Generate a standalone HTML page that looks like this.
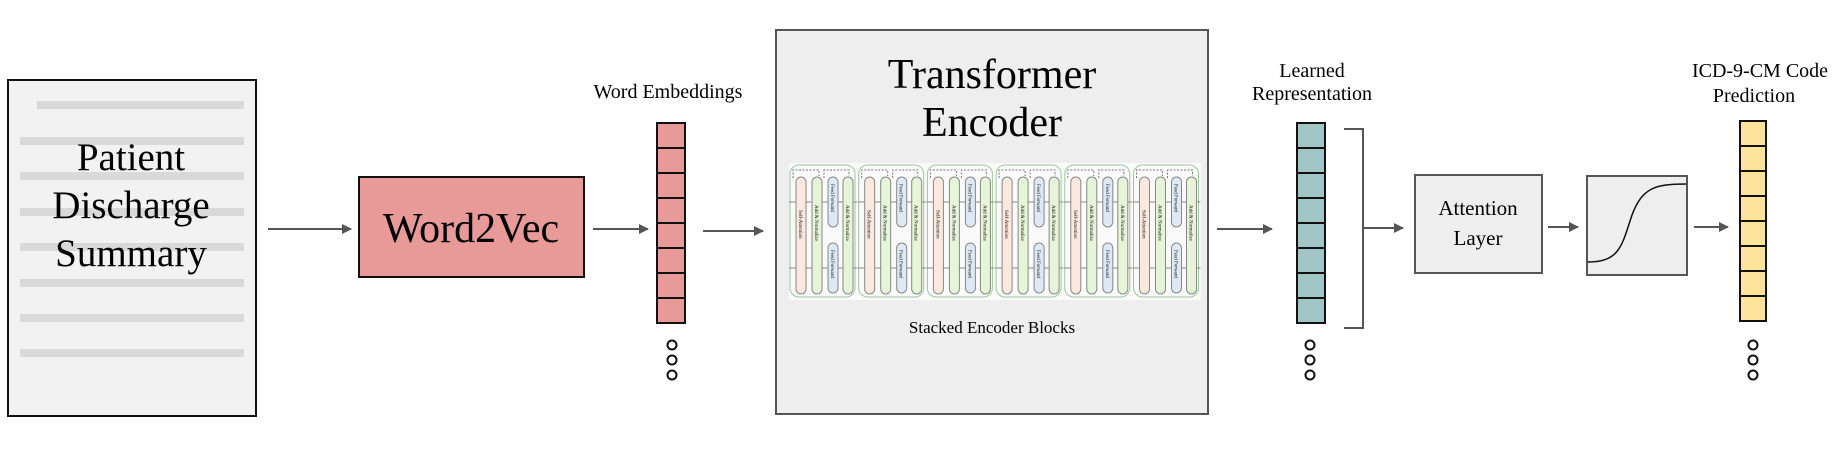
<!DOCTYPE html>
<html><head><meta charset="utf-8"><style>
html,body{margin:0;padding:0;background:#fff;}
svg{display:block;}
text{font-family:"Liberation Serif",serif;fill:#000;}
</style></head><body>
<svg width="1838" height="450" viewBox="0 0 1838 450" xmlns="http://www.w3.org/2000/svg">
<defs>
<marker id="ah" markerWidth="10" markerHeight="10" refX="9" refY="5" orient="auto" markerUnits="userSpaceOnUse">
<path d="M0,0 L10,5 L0,10 z" fill="#555"/></marker>
</defs>
<!-- document -->
<rect x="8" y="80" width="248" height="336" fill="#f2f2f2" stroke="#111" stroke-width="2"/>
<g fill="#d9d9d9">
<rect x="37" y="101" width="207" height="8"/>
<rect x="20" y="137" width="224" height="8"/>
<rect x="20" y="172" width="224" height="8"/>
<rect x="20" y="208" width="224" height="8"/>
<rect x="20" y="243" width="224" height="8"/>
<rect x="20" y="279" width="224" height="8"/>
<rect x="20" y="314" width="224" height="8"/>
<rect x="20" y="349" width="224" height="8"/>
</g>
<g font-size="39" text-anchor="middle">
<text x="131" y="170">Patient</text>
<text x="131" y="218">Discharge</text>
<text x="131" y="266">Summary</text>
</g>
<line x1="268" y1="229" x2="351" y2="229" stroke="#555" stroke-width="2" marker-end="url(#ah)"/>
<!-- word2vec -->
<rect x="359" y="177" width="225" height="100" fill="#e89a98" stroke="#111" stroke-width="2"/>
<text x="471" y="242" font-size="42" text-anchor="middle">Word2Vec</text>
<line x1="593" y1="229" x2="648" y2="229" stroke="#555" stroke-width="2" marker-end="url(#ah)"/>
<!-- word embeddings -->
<text x="668" y="98" font-size="20" text-anchor="middle">Word Embeddings</text>
<g fill="#e89a98" stroke="#111" stroke-width="2">
<rect x="657" y="123" width="28" height="25"/><rect x="657" y="148" width="28" height="25"/>
<rect x="657" y="173" width="28" height="25"/><rect x="657" y="198" width="28" height="25"/>
<rect x="657" y="223" width="28" height="25"/><rect x="657" y="248" width="28" height="25"/>
<rect x="657" y="273" width="28" height="25"/><rect x="657" y="298" width="28" height="25"/>
</g>
<g fill="none" stroke="#111" stroke-width="2">
<circle cx="672" cy="345" r="4.5"/><circle cx="672" cy="360" r="4.5"/><circle cx="672" cy="375" r="4.5"/>
</g>
<line x1="703" y1="231" x2="763" y2="231" stroke="#555" stroke-width="2" marker-end="url(#ah)"/>
<!-- transformer -->
<rect x="776" y="30" width="432" height="384" fill="#eeeeee" stroke="#555" stroke-width="2"/>
<g font-size="42" text-anchor="middle">
<text x="992" y="88">Transformer</text>
<text x="992" y="136">Encoder</text>
</g>
<rect x="789" y="163" width="412" height="137" fill="#fafafa"/>
<text x="992" y="333" font-size="17" text-anchor="middle">Stacked Encoder Blocks</text>
<line x1="1217" y1="229" x2="1272" y2="229" stroke="#555" stroke-width="2" marker-end="url(#ah)"/>
<!-- learned representation -->
<g font-size="20" text-anchor="middle">
<text x="1312" y="77">Learned</text>
<text x="1312" y="100">Representation</text>
</g>
<g fill="#a2c6c6" stroke="#111" stroke-width="2">
<rect x="1297" y="123" width="28" height="25"/><rect x="1297" y="148" width="28" height="25"/>
<rect x="1297" y="173" width="28" height="25"/><rect x="1297" y="198" width="28" height="25"/>
<rect x="1297" y="223" width="28" height="25"/><rect x="1297" y="248" width="28" height="25"/>
<rect x="1297" y="273" width="28" height="25"/><rect x="1297" y="298" width="28" height="25"/>
</g>
<g fill="none" stroke="#111" stroke-width="2">
<circle cx="1310" cy="345" r="4.5"/><circle cx="1310" cy="360" r="4.5"/><circle cx="1310" cy="375" r="4.5"/>
</g>
<polyline points="1344,129 1363,129 1363,328 1344,328" fill="none" stroke="#555" stroke-width="2"/>
<line x1="1363" y1="228" x2="1403" y2="228" stroke="#555" stroke-width="2" marker-end="url(#ah)"/>
<!-- attention -->
<rect x="1415" y="175" width="127" height="98" fill="#eeeeee" stroke="#555" stroke-width="2"/>
<g font-size="21" text-anchor="middle">
<text x="1478" y="215">Attention</text>
<text x="1478" y="245">Layer</text>
</g>
<line x1="1548" y1="227" x2="1578" y2="227" stroke="#555" stroke-width="2" marker-end="url(#ah)"/>
<!-- sigmoid -->
<rect x="1587" y="176" width="100" height="99" fill="#eeeeee" stroke="#555" stroke-width="2"/>
<path d="M1588,262 C1620,262 1622,245 1632,215 C1642,188 1655,184 1686,184" fill="none" stroke="#111" stroke-width="1.5"/>
<line x1="1694" y1="227" x2="1728" y2="227" stroke="#555" stroke-width="2" marker-end="url(#ah)"/>
<!-- ICD -->
<g font-size="20" text-anchor="middle">
<text x="1760" y="77">ICD-9-CM Code</text>
<text x="1754" y="102">Prediction</text>
</g>
<g fill="#fde49a" stroke="#111" stroke-width="2">
<rect x="1740" y="121" width="26" height="25"/><rect x="1740" y="146" width="26" height="25"/>
<rect x="1740" y="171" width="26" height="25"/><rect x="1740" y="196" width="26" height="25"/>
<rect x="1740" y="221" width="26" height="25"/><rect x="1740" y="246" width="26" height="25"/>
<rect x="1740" y="271" width="26" height="25"/><rect x="1740" y="296" width="26" height="25"/>
</g>
<g fill="none" stroke="#111" stroke-width="2">
<circle cx="1753" cy="345" r="4.5"/><circle cx="1753" cy="360" r="4.5"/><circle cx="1753" cy="375" r="4.5"/>
</g>
<!-- encoder blocks -->
<g stroke-width="1">
<g transform="translate(789,0)" id="b0">
<rect x="1" y="165" width="65" height="132" rx="9" fill="none" stroke="#9cc79c"/>
<path d="M4,178 V170 H30 V176 M35,178 V170 H60 V176" fill="none" stroke="#777" stroke-dasharray="2,1.5"/>
<line x1="0" y1="202" x2="68" y2="202" stroke="#888"/>
<line x1="0" y1="268" x2="68" y2="268" stroke="#888"/>
<rect x="7" y="177" width="10" height="117" rx="5" fill="#fbe9dd" stroke="#888"/>
<rect x="23" y="177" width="10" height="117" rx="5" fill="#e6f4d7" stroke="#888"/>
<rect x="39" y="177" width="10" height="50" rx="5" fill="#dde9f5" stroke="#888"/>
<rect x="39" y="243" width="10" height="50" rx="5" fill="#dde9f5" stroke="#888"/>
<rect x="54" y="177" width="10" height="117" rx="5" fill="#e6f4d7" stroke="#888"/>
<g font-size="5" fill="#999" style="fill:#999">
<text transform="translate(10,210) rotate(90)">Self-Attention</text>
<text transform="translate(26,205) rotate(90)">Add &amp; Normalize</text>
<text transform="translate(42,184) rotate(90)">Feed Forward</text>
<text transform="translate(42,250) rotate(90)">Feed Forward</text>
<text transform="translate(57,205) rotate(90)">Add &amp; Normalize</text>
</g>
</g>
<use href="#b0" transform="translate(68.7,0)"/>
<use href="#b0" transform="translate(137.4,0)"/>
<use href="#b0" transform="translate(206.1,0)"/>
<use href="#b0" transform="translate(274.8,0)"/>
<use href="#b0" transform="translate(343.5,0)"/>
</g>
</svg>
</body></html>
